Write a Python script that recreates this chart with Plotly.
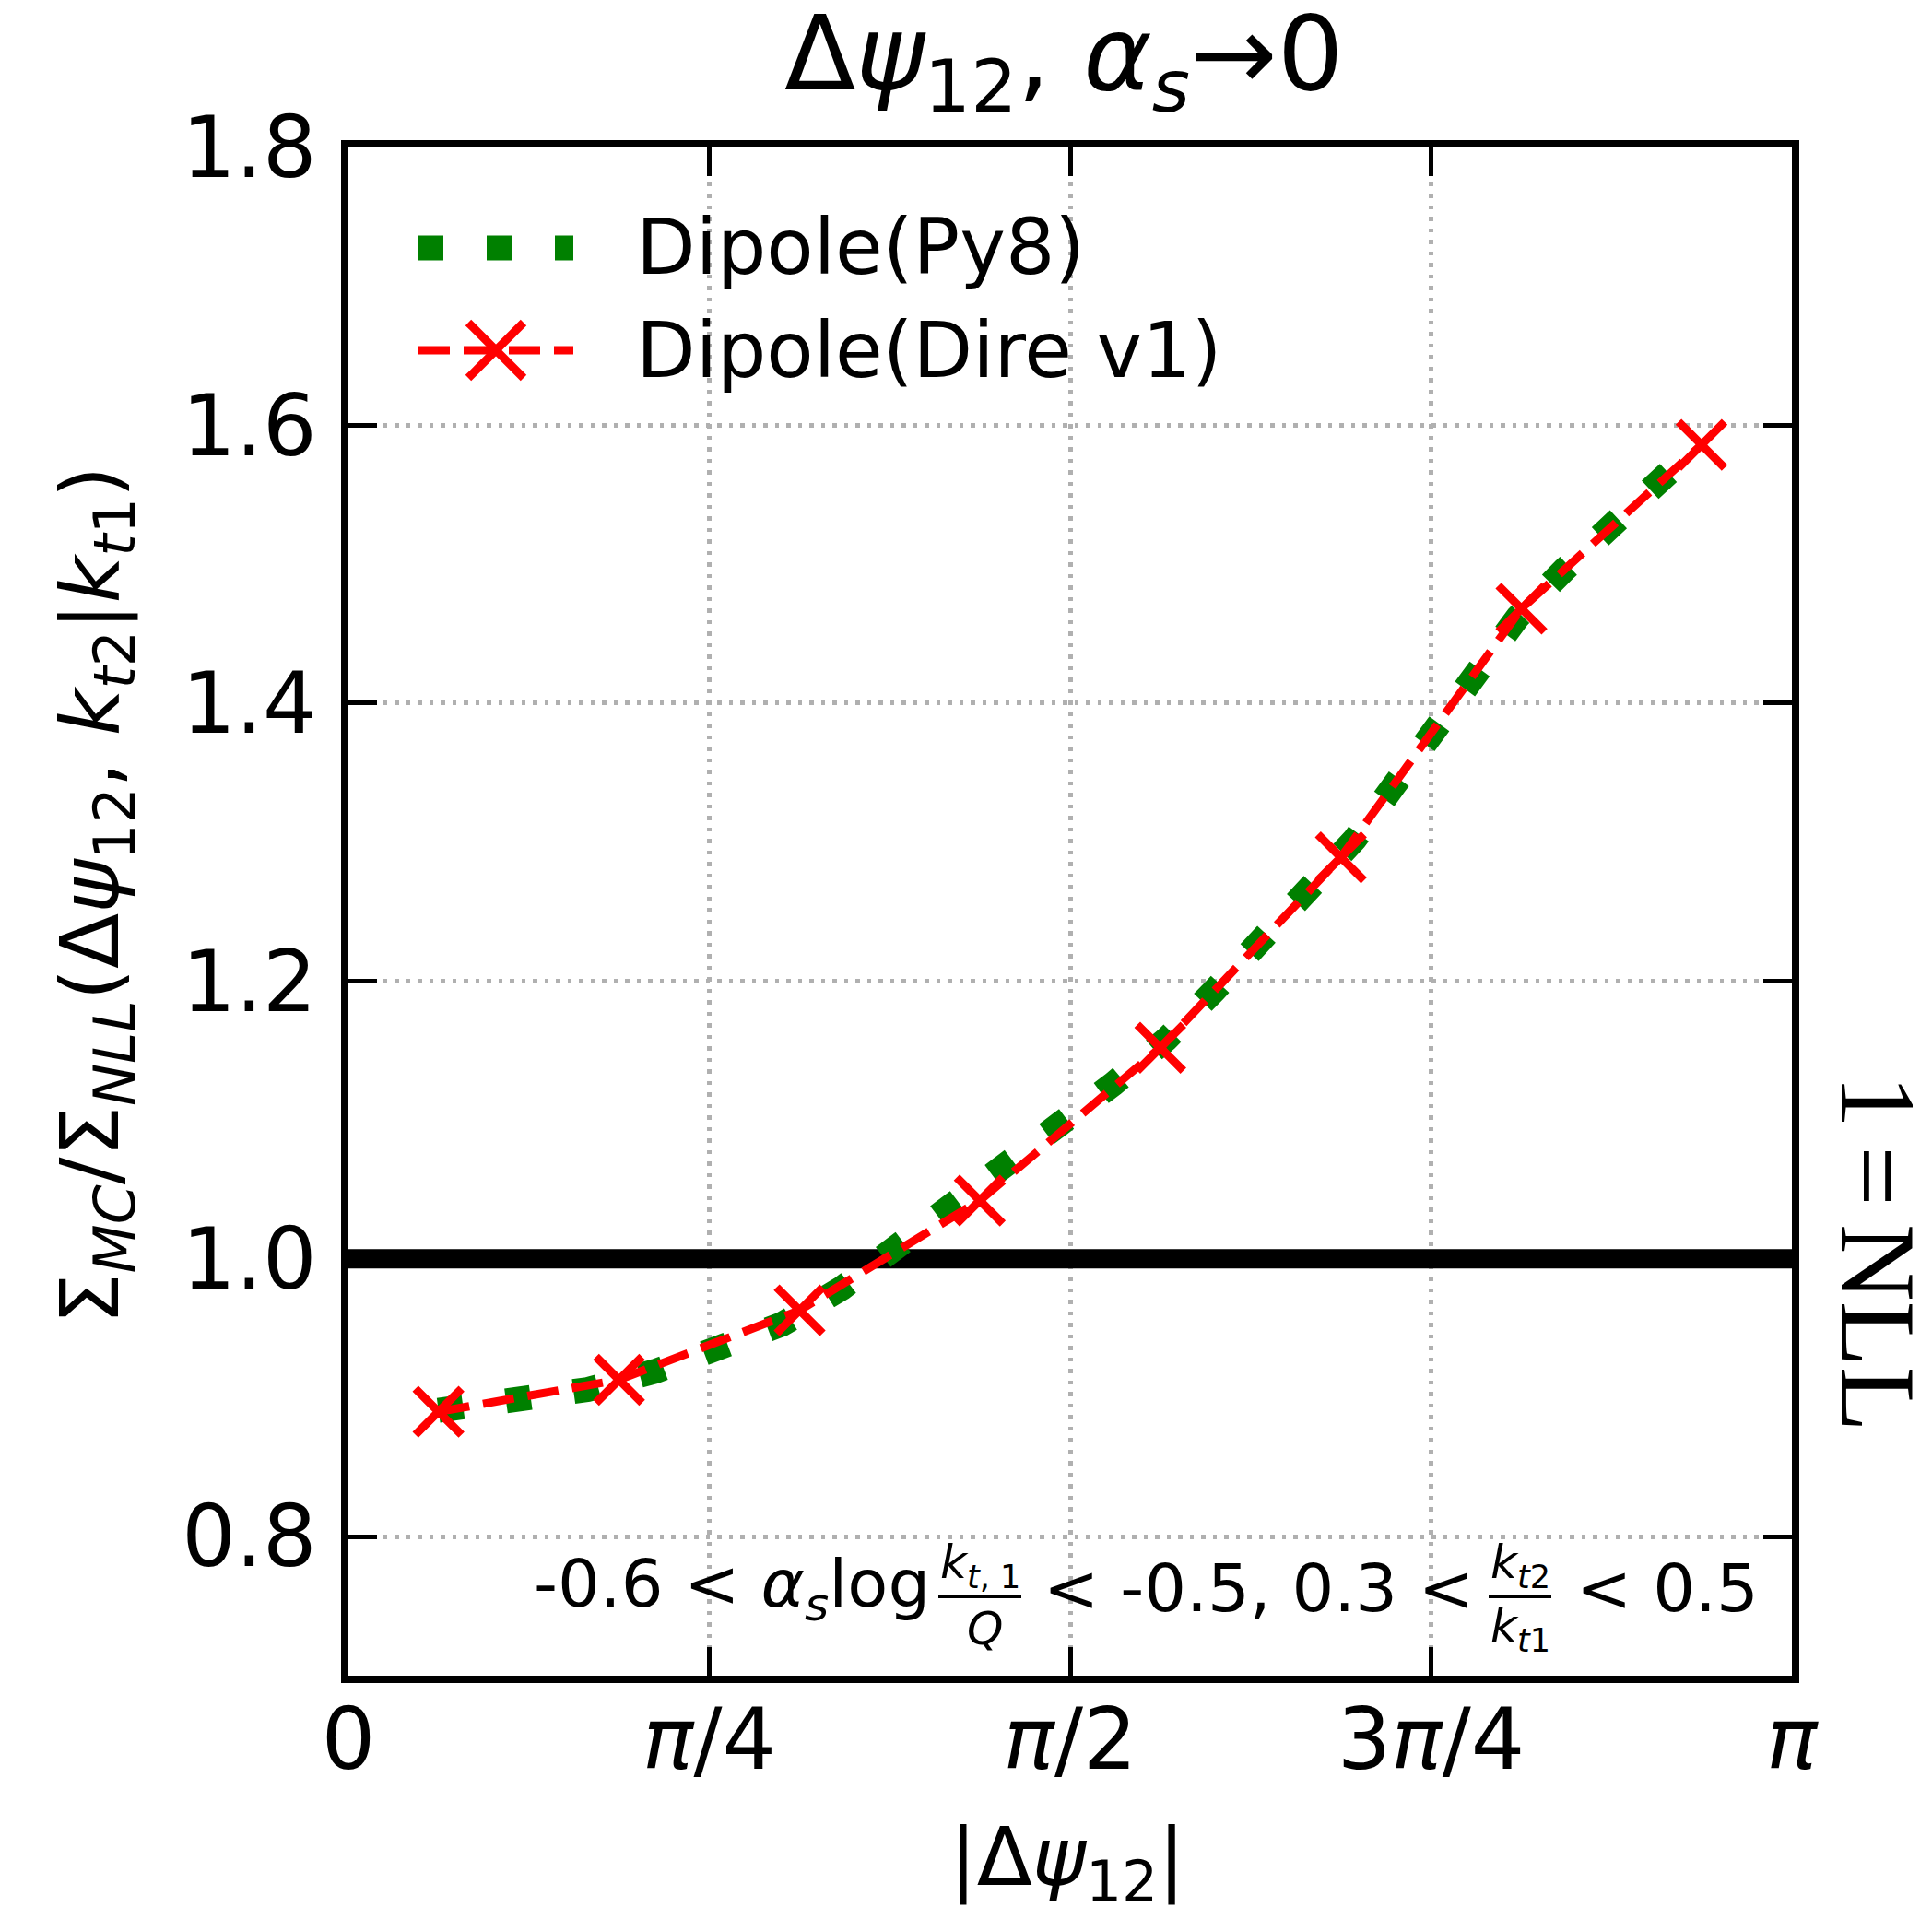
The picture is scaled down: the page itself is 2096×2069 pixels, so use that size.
import math
import plotly.graph_objects as go

# ---- data -------------------------------------------------------------
# Dipole(Dire v1): bin centres in |Δψ12| and Σ_MC/Σ_NLL
dire_x = [0.196, 0.589, 0.982, 1.374, 1.767, 2.160, 2.553, 2.945]
dire_y = [0.890, 0.913, 0.963, 1.042, 1.152, 1.289, 1.468, 1.586]

# Dipole(Py8) curve
py8_x = [0.196, 0.373, 0.521, 0.667, 0.804, 0.944, 1.074, 1.191, 1.306,
         1.426, 1.548, 1.665, 1.780, 1.884, 1.988, 2.089, 2.190, 2.276,
         2.363, 2.453, 2.545, 2.646, 2.754, 2.865, 2.945]
py8_y = [0.891, 0.899, 0.906, 0.919, 0.936, 0.953, 0.979, 1.007, 1.036,
         1.066, 1.097, 1.126, 1.158, 1.193, 1.229, 1.265, 1.302, 1.341,
         1.382, 1.421, 1.462, 1.496, 1.529, 1.563, 1.588]

# NLL reference level
nll_level = 1.0

x_tick_vals = [0, math.pi / 4, math.pi / 2, 3 * math.pi / 4, math.pi]
x_tick_text = ["0", "<i>π</i>/4", "<i>π</i>/2", "3<i>π</i>/4", "<i>π</i>"]
y_tick_vals = [0.8, 1.0, 1.2, 1.4, 1.6, 1.8]
y_tick_text = ["0.8", "1.0", "1.2", "1.4", "1.6", "1.8"]

series_names = ["Dipole(Py8)", "Dipole(Dire v1)"]

# ---- geometry ---------------------------------------------------------
W, H = 2096, 2069
L, R, T, B = 378, 1944, 160, 1818          # plot-area edges in pixels


def px(xp):
    return (xp - L) / (R - L)


def py(yp):
    return (B - yp) / (B - T)


FONT = "DejaVu Sans"
GREEN = "#008000"
RED = "#ff0000"

fig = go.Figure()

# NLL = 1 reference line
fig.add_trace(go.Scatter(
    x=[0, math.pi], y=[nll_level, nll_level], mode="lines",
    line=dict(color="black", width=21), showlegend=False, hoverinfo="skip"))

# Py8: thick dotted line
fig.add_trace(go.Scatter(
    x=py8_x, y=py8_y, mode="lines", name=series_names[0],
    line=dict(color=GREEN, width=27, dash="27px,47px"), showlegend=False))

# Dire v1: dashed line with crosses
fig.add_trace(go.Scatter(
    x=dire_x, y=dire_y, mode="lines+markers", name=series_names[1],
    line=dict(color=RED, width=9, dash="34px,15px"),
    marker=dict(symbol="x-thin", size=50, color=RED,
                line=dict(color=RED, width=9)),
    showlegend=False))

axis_common = dict(
    ticks="inside", ticklen=31, tickwidth=5, tickcolor="black",
    showline=True, linewidth=8, linecolor="black", mirror="allticks",
    showgrid=True, gridcolor="#b0b0b0", gridwidth=4.5, griddash="4.5px,8px",
    zeroline=False, tickfont=dict(family=FONT, size=92, color="black"),
)
fig.update_xaxes(range=[0, math.pi], tickmode="array", tickvals=x_tick_vals,
                 ticktext=x_tick_text, **axis_common)
fig.update_yaxes(range=[0.7, 1.8], tickmode="array", tickvals=y_tick_vals,
                 ticktext=y_tick_text, ticklabelstandoff=8, **axis_common)
try:
    fig.update_xaxes(ticklabelstandoff=-17)
except ValueError:
    fig.update_xaxes(ticklabelstandoff=0)

annotations = []
shapes = []


def text(s, x, y, size, xanchor="center", yanchor="middle", angle=0,
         family=FONT):
    annotations.append(dict(
        text=s, x=px(x), y=py(y), xref="paper", yref="paper",
        xanchor=xanchor, yanchor=yanchor, showarrow=False, textangle=angle,
        font=dict(family=family, size=size, color="black")))


def seg(x0, y0, x1, y1, color, width, dash="solid"):
    shapes.append(dict(
        type="line", xref="paper", yref="paper",
        x0=px(x0), y0=py(y0), x1=px(x1), y1=py(y1),
        line=dict(color=color, width=width, dash=dash), layer="above"))


# title and axis labels
text("Δ<i>ψ</i><sub>12</sub>, <i>α</i><sub><i>s</i></sub>→0", 1154, 66, 113)
text("|Δ<i>ψ</i><sub>12</sub>|", 1158, 2020, 88)
text("Σ<sub><i>MC</i></sub>/Σ<sub><i>NLL</i></sub>(Δ<i>ψ</i><sub>12</sub>, "
     "<i>k</i><sub><i>t</i>2</sub>|<i>k</i><sub><i>t</i>1</sub>)",
     104, 972, 88, angle=-90)

# side label
text("1\u2006=\u2006NLL", 2037, 1360, 116, angle=90, family="Liberation Serif")

# legend
seg(454, 269, 622, 269, GREEN, 27, "27px,47px")
text(series_names[0], 688, 268, 84, xanchor="left")
seg(454, 380, 622, 380, RED, 9, "34px,15px")
seg(538 - 30, 380 - 30, 538 + 30, 380 + 30, RED, 9)
seg(538 - 30, 380 + 30, 538 + 30, 380 - 30, RED, 9)
text(series_names[1], 688, 380, 84, xanchor="left")

# selection cuts
AF = 72
text("-0.6 &lt; <i>α</i><sub><i>s</i></sub>log", 577, 1723, AF, xanchor="left")
text("<i>k</i><sub><i>t</i>, 1</sub>", 1063, 1698, 50)
seg(1018, 1732, 1108, 1732, "black", 4)
text("<i>Q</i>", 1068, 1767, 50)
text("&lt; -0.5, 0.3 &lt;", 1130, 1723, AF, xanchor="left")
text("<i>k</i><sub><i>t</i>2</sub>", 1649, 1698, 50)
seg(1615, 1732, 1683, 1732, "black", 4)
text("<i>k</i><sub><i>t</i>1</sub>", 1649, 1767, 50)
text("&lt; 0.5", 1708, 1723, AF, xanchor="left")

fig.update_layout(
    width=W, height=H,
    margin=dict(l=L, r=W - R, t=T, b=H - B, pad=0),
    paper_bgcolor="white", plot_bgcolor="white",
    showlegend=False, annotations=annotations, shapes=shapes,
    font=dict(family=FONT, color="black"),
)

fig.write_html("out.html")
